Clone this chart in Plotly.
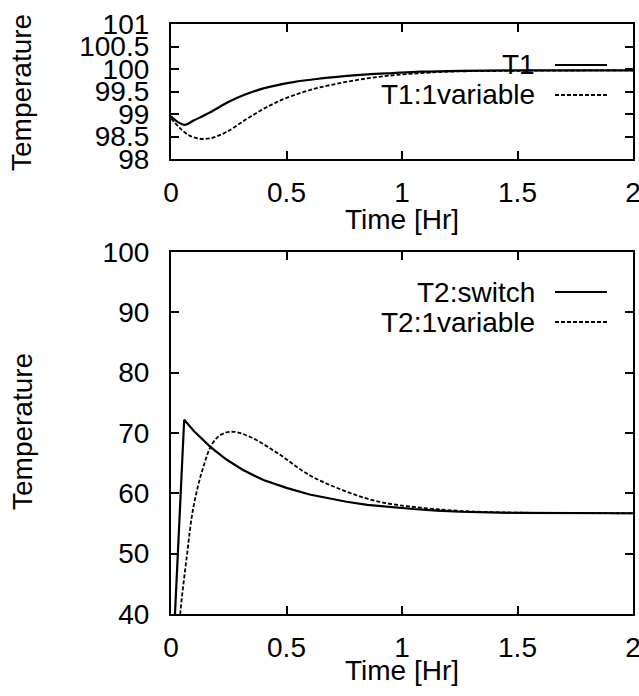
import plotly.graph_objects as go

# Top panel: T1
t1_time = [0, 0.03, 0.06, 0.1, 0.17, 0.25, 0.31, 0.4, 0.53, 0.65, 0.75, 0.85, 0.96, 1.08, 1.25, 1.5, 2.0]
t1_vals = [98.95, 98.82, 98.76, 98.86, 99.04, 99.27, 99.41, 99.57, 99.71, 99.79, 99.84, 99.88, 99.91, 99.94, 99.96, 99.97, 99.97]

t1v_time = [0, 0.04, 0.08, 0.125, 0.17, 0.24, 0.34, 0.46, 0.6, 0.745, 0.89, 1.03, 1.2, 1.5, 2.0]
t1v_vals = [98.9, 98.68, 98.52, 98.45, 98.46, 98.6, 98.93, 99.27, 99.53, 99.7, 99.82, 99.89, 99.94, 99.96, 99.97]

# Bottom panel: T2
t2s_time = [0, 0.057, 0.1, 0.17, 0.24, 0.31, 0.4, 0.5, 0.6, 0.675, 0.76, 0.85, 0.95, 1.05, 1.15, 1.25, 1.5, 2.0]
t2s_vals = [26, 72.2, 70.3, 67.7, 65.6, 63.9, 62.2, 60.9, 59.8, 59.2, 58.6, 58.1, 57.7, 57.4, 57.15, 56.95, 56.75, 56.7]

t2v_time = [0.03, 0.04, 0.068, 0.097, 0.14, 0.18, 0.22, 0.27, 0.34, 0.46, 0.6, 0.745, 0.89, 1.06, 1.25, 1.5, 2.0]
t2v_vals = [34, 40, 49.4, 57.7, 64.4, 68.3, 69.8, 70.2, 69.4, 66.7, 63.0, 60.5, 58.7, 57.7, 57.1, 56.8, 56.7]

x_ticks = [0, 0.5, 1, 1.5, 2]
x_labels = ["0", "0.5", "1", "1.5", "2"]
y1_ticks = [98, 98.5, 99, 99.5, 100, 100.5, 101]
y1_labels = ["98", "98.5", "99", "99.5", "100", "100.5", "101"]
y2_ticks = [40, 50, 60, 70, 80, 90, 100]
y2_labels = ["40", "50", "60", "70", "80", "90", "100"]

FONT = "Liberation Sans, Arial, sans-serif"
FS = 28
W, H = 639, 696

fig = go.Figure()

fig.add_trace(go.Scatter(x=t1_time, y=t1_vals, mode="lines", line=dict(color="black", width=2.2, shape="spline"),
                         xaxis="x", yaxis="y", name="T1"))
fig.add_trace(go.Scatter(x=t1v_time, y=t1v_vals, mode="lines",
                         line=dict(color="black", width=1.8, dash="4px,2px", shape="spline"),
                         xaxis="x", yaxis="y", name="T1:1variable"))
fig.add_trace(go.Scatter(x=t2s_time, y=t2s_vals, mode="lines", line=dict(color="black", width=2.2),
                         xaxis="x2", yaxis="y2", name="T2:switch"))
fig.add_trace(go.Scatter(x=t2v_time, y=t2v_vals, mode="lines",
                         line=dict(color="black", width=1.8, dash="4px,2px", shape="spline"),
                         xaxis="x2", yaxis="y2", name="T2:1variable"))

axis_style = dict(showline=True, linecolor="black", linewidth=2.2, mirror="ticks",
                  ticks="inside", ticklen=8, tickwidth=1.5, tickcolor="black",
                  showgrid=False, zeroline=False, automargin=False, ticklabeloverflow="allow",
                  tickfont=dict(family=FONT, size=FS, color="black"))

xdom = [171 / W, 633 / W]
fig.update_layout(
    width=W, height=H,
    margin=dict(l=0, r=0, t=0, b=0),
    paper_bgcolor="white", plot_bgcolor="white",
    showlegend=False,
    template="none",
    xaxis=dict(domain=xdom, range=[0, 2], tickvals=x_ticks, ticktext=x_labels,
               anchor="y", ticklabelstandoff=7, **axis_style),
    yaxis=dict(domain=[1 - 159 / H, 1 - 24 / H], range=[98, 101], tickvals=y1_ticks, ticktext=y1_labels,
               anchor="x", ticklabelstandoff=14, **axis_style),
    xaxis2=dict(domain=xdom, range=[0, 2], tickvals=x_ticks, ticktext=x_labels,
                anchor="y2", ticklabelstandoff=7, **axis_style),
    yaxis2=dict(domain=[1 - 614 / H, 1 - 252 / H], range=[40, 100], tickvals=y2_ticks, ticktext=y2_labels,
                anchor="x2", ticklabelstandoff=14, **axis_style),
)

# Axis titles
txt = dict(family=FONT, size=FS, color="black")
for yc in [93, 432]:
    fig.add_annotation(text="Temperature", x=22 / W, y=1 - yc / H, xref="paper", yref="paper",
                       textangle=-90, showarrow=False, font=txt, xanchor="center", yanchor="middle")
for yc in [219, 670]:
    fig.add_annotation(text="Time [Hr]", x=402 / W, y=1 - yc / H, xref="paper", yref="paper",
                       showarrow=False, font=txt, xanchor="center", yanchor="middle")

# gnuplot-style keys: label on the left, line sample on the right
keys = [("T1", 65, "solid"), ("T1:1variable", 95, "4px,2px"),
        ("T2:switch", 292, "solid"), ("T2:1variable", 322, "4px,2px")]
for label, yc, dash in keys:
    fig.add_annotation(text=label, x=537 / W, y=1 - yc / H, xref="paper", yref="paper",
                       showarrow=False, font=txt, xanchor="right", yanchor="middle")
    fig.add_shape(type="line", xref="paper", yref="paper", x0=555 / W, x1=607 / W,
                  y0=1 - yc / H, y1=1 - yc / H,
                  line=dict(color="black", width=2.2 if dash == "solid" else 1.8, dash=dash))

# page has a default 8px body margin; drop it so the figure sits at the window corner
fig.write_html("out.html", config={"displayModeBar": False},
               post_script="document.body.style.margin='0';")
